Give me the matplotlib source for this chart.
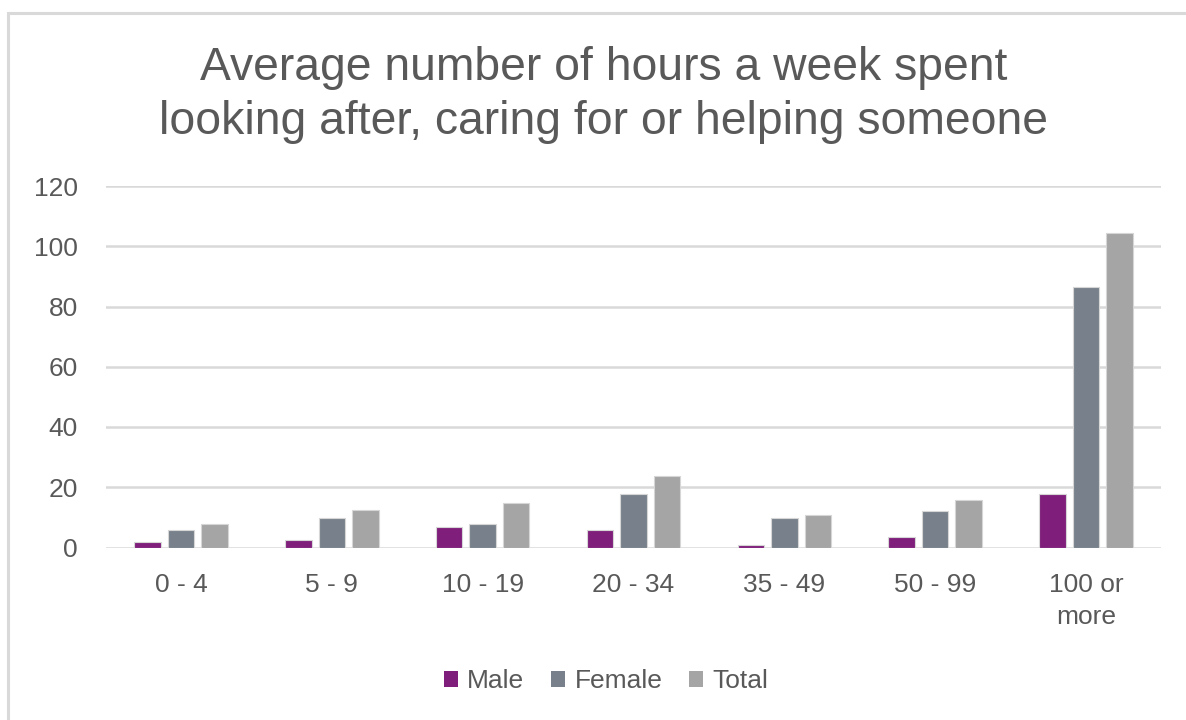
import matplotlib
matplotlib.use("Agg")
import matplotlib.pyplot as plt
import numpy as np
from matplotlib.patches import Rectangle, Patch

plt.rcParams['font.family'] = ['Liberation Sans', 'DejaVu Sans']

categories = ["0 - 4", "5 - 9", "10 - 19", "20 - 34", "35 - 49", "50 - 99", "100 or\nmore"]
male = [1.9, 2.5, 6.7, 5.7, 0.8, 3.6, 17.9]
female = [5.7, 9.8, 7.7, 17.9, 9.8, 12.1, 86.6]
total = [7.7, 12.5, 14.7, 23.7, 10.9, 15.7, 104.5]
series_names = ["Male", "Female", "Total"]
colors = ["#7F1F7B", "#78818B", "#A5A5A5"]
yticks = [0, 20, 40, 60, 80, 100, 120]
title = "Average number of hours a week spent\nlooking after, caring for or helping someone"

W, H = 1186, 720
fig = plt.figure(figsize=(W / 100, H / 100), dpi=100)
fig.patch.set_facecolor("white")

# chart border
fig.patches.append(Rectangle((8 / W, -0.2), 2.0, (H - 13) / H + 0.2,
                             transform=fig.transFigure, fill=False,
                             edgecolor="#D9D9D9", linewidth=2.2, clip_on=False))

ax = fig.add_axes([105.6 / W, (H - 547.5) / H, (1161.4 - 105.6) / W, (547.5 - 186.0) / H])
x = np.arange(len(categories))
step = 0.222
width = 0.176
for i, (vals, name, c) in enumerate(zip([male, female, total], series_names, colors)):
    ax.bar(x + (i - 1) * step, vals, width=width, color=c, edgecolor="#D6D6D6",
           linewidth=0.8, label=name, zorder=3)

ax.set_xlim(-0.5, len(categories) - 0.5)
ax.set_ylim(0, 120)
ax.set_yticks(yticks)
ax.set_xticks(x)
ax.set_xticklabels(categories, linespacing=1.45)
ax.tick_params(axis="both", length=0, labelsize=19, labelcolor="#595959")
ax.tick_params(axis="y", pad=20)
ax.tick_params(axis="x", pad=18)
ax.grid(axis="y", color="#D9D9D9", linewidth=1.8, zorder=0)
ax.set_axisbelow(True)
for s in ax.spines.values():
    s.set_visible(False)

fig.text(604 / W, 1 - 46 / H, title, ha="center", va="top", fontsize=33.3,
         color="#595959", linespacing=1.3)

handles = [Patch(facecolor=c, edgecolor="none") for c in colors]
fig.legend(handles, series_names, loc="center", bbox_to_anchor=(606 / W, (H - 681) / H),
           ncol=3, frameon=False, fontsize=19, labelcolor="#595959",
           handlelength=0.55, handleheight=0.55, handletextpad=0.35, columnspacing=1.0)

fig.savefig("out.png", dpi=100, facecolor="white")
